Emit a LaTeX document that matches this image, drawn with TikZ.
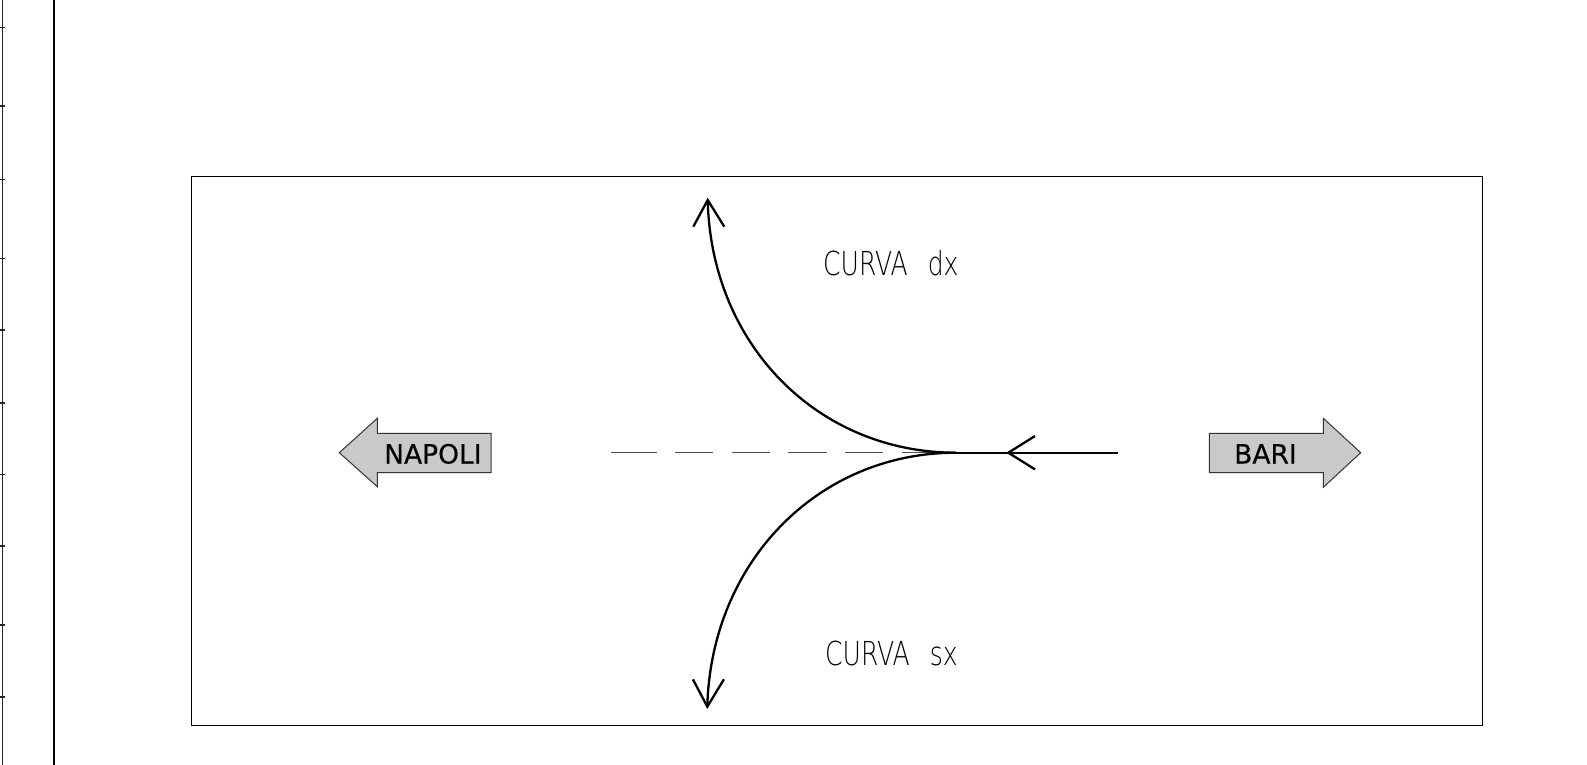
\documentclass[tikz,border=0pt]{standalone}
\usepackage{fontspec}
\setmainfont{DejaVu Sans}
\newfontfamily\cadfont[FakeStretch=0.76]{DejaVu Sans ExtraLight}
\newfontfamily\signfont[FakeBold=0.4]{DejaVu Sans}
\begin{document}
\begin{tikzpicture}[x=1pt,y=-1pt,
  frame/.style={line width=1.2pt, draw=black},
  ruler/.style={line width=1.2pt, draw=black!85},
  curve/.style={line width=2.3pt, draw=black},
  barb/.style={line width=2.3pt, draw=black, line join=miter},
  dashline/.style={line width=1pt, draw=black!70},
  sign/.style={fill=black!21, draw=black!80, line width=1pt, line join=miter},
  signtext/.style={font=\signfont\fontsize{26.5}{26.5}\selectfont, inner sep=0pt, anchor=base west},
  cadtext/.style={font=\cadfont\fontsize{33}{33}\selectfont, inner sep=0pt, anchor=base west}]
\useasboundingbox (0,0) rectangle (1587,765);
% left ruler
\draw[ruler] (2.7,0) -- (2.7,765);
\foreach \ty in {27.8,106,179.5,258.5,330,403,474.6,546,625,697}
  \draw[ruler] (0,\ty) -- (5,\ty);
\draw[line width=2pt] (54.3,0) -- (54.3,765);
% frame
\draw[frame] (191.3,176.7) rectangle (1482.3,725.3);
% coordinates
\coordinate (J) at (956,452.7);
\coordinate (T) at (707.7,200);
\coordinate (B) at (707.3,706.7);
\coordinate (E) at (1118,452.7);
\coordinate (M) at (1008.3,452.7);
\coordinate (D) at (611,452.7);
% dashed centre line
\draw[dashline, dash pattern=on 45.7pt off 18.3pt on 38.3pt off 18.4pt on 38.3pt off 18.4pt on 38.3pt off 18.4pt on 38.3pt off 18.4pt on 38.3pt off 18.4pt on 80pt off 1pt] (D) -- (J);
% incoming line
\draw[curve] (E) -- (J);
\draw[barb] (M) ++(26.7,-16.7) -- (M) -- ++(26.7,16.7);
% right curve (dx)
\draw[curve] (J) .. controls (818,452.7) and (711,345) .. (T);
\draw[barb] (T) ++(-14.4,26.7) -- (T) -- ++(16.6,26.7);
% left curve (sx)
\draw[curve] (J) .. controls (818,452.7) and (711,562) .. (B);
\draw[barb] (B) ++(-14.4,-27.4) -- (B) -- ++(16.6,-27.4);
% labels
\node[cadtext] (dx) at (823,275.7) {CURVA\hspace{20pt}dx};
\node[cadtext] (sx) at (825,665.7) {CURVA\hspace{20pt}sx};
% direction signs
\draw[sign] (339.3,452.7) -- (377.3,418.3) -- (377.3,433.3) -- (491,433.3) -- (491,472.7) -- (377.3,472.7) -- (377.3,486.7) -- cycle;
\node[signtext] (napoli) at (384,463.5) {NAPOLI};
\draw[sign] (1360.7,452.7) -- (1323.3,418.3) -- (1323.3,433.3) -- (1209.3,433.3) -- (1209.3,472.7) -- (1323.3,472.7) -- (1323.3,487.3) -- cycle;
\node[signtext] (bari) at (1234,463.5) {BARI};
\end{tikzpicture}
\end{document}
